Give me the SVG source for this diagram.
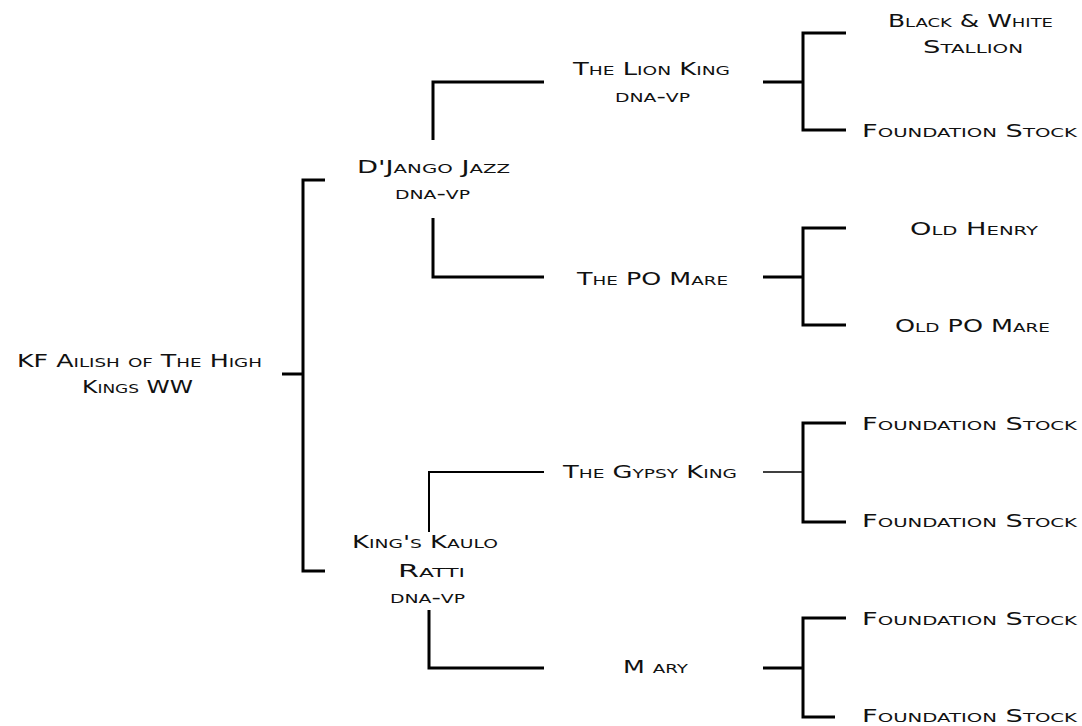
<svg xmlns="http://www.w3.org/2000/svg" width="1082" height="726" viewBox="0 0 1082 726">
<style>
text{font-family:"DejaVu Sans","Liberation Sans",Arial,sans-serif;font-size:18px;font-variant:small-caps;fill:#111;}
.ln{stroke:#000;stroke-width:3;fill:none;stroke-linecap:butt;stroke-linejoin:miter;}
.th{stroke:#000;stroke-width:1.5;fill:none;}
.md{stroke:#000;stroke-width:2;fill:none;}
</style>
<rect width="1082" height="726" fill="#fff"/>
<g id="connectors">
<path class="ln" d="M325 180 H303 V571 H325"/>
<path class="ln" d="M282 374 H303"/>
<path class="ln" d="M433 140 V82 H544"/>
<path class="ln" d="M433 218 V277 H544"/>
<path class="md" d="M429 532 V472 H544"/>
<path class="ln" d="M429 610 V668 H544"/>
<path class="ln" d="M846 33 H803 V130 H846"/>
<path class="ln" d="M763 82 H803"/>
<path class="ln" d="M846 228 H803 V325 H846"/>
<path class="ln" d="M763 277 H803"/>
<path class="ln" d="M846 423 H803 V522 H846"/>
<path class="th" d="M763 472 H803"/>
<path class="ln" d="M846 618 H803 V717 H835"/>
<path class="ln" d="M763 668 H803"/>
</g>
<g id="root">
<text x="17" y="367" textLength="245" lengthAdjust="spacingAndGlyphs">KF Ailish of The High</text>
<text x="82" y="393" textLength="111" lengthAdjust="spacingAndGlyphs">Kings WW</text>
</g>
<g id="django">
<text x="357" y="173" textLength="153" lengthAdjust="spacingAndGlyphs">D'Jango Jazz</text>
<text x="395" y="199" textLength="75" lengthAdjust="spacingAndGlyphs">dna-vp</text>
</g>
<g id="kaulo">
<text x="352" y="548" textLength="146" lengthAdjust="spacingAndGlyphs">King's Kaulo</text>
<text x="398" y="577" textLength="67" lengthAdjust="spacingAndGlyphs">Ratti</text>
<text x="390" y="603" textLength="75" lengthAdjust="spacingAndGlyphs">dna-vp</text>
</g>
<g id="lionking">
<text x="573" y="75" textLength="157" lengthAdjust="spacingAndGlyphs">The Lion King</text>
<text x="615" y="102" textLength="75" lengthAdjust="spacingAndGlyphs">dna-vp</text>
</g>
<g id="pomare">
<text x="577" y="285" textLength="151" lengthAdjust="spacingAndGlyphs">The PO Mare</text>
</g>
<g id="gypsyking">
<text x="563" y="478" textLength="174" lengthAdjust="spacingAndGlyphs">The Gypsy King</text>
</g>
<g id="mary">
<text x="623" y="673" textLength="65" lengthAdjust="spacingAndGlyphs">M ary</text>
</g>
<g id="bwstallion">
<text x="888" y="27" textLength="165" lengthAdjust="spacingAndGlyphs">Black &amp; White</text>
<text x="923" y="53" textLength="100" lengthAdjust="spacingAndGlyphs">Stallion</text>
</g>
<g id="foundation1">
<text x="862" y="137" textLength="215" lengthAdjust="spacingAndGlyphs">Foundation Stock</text>
</g>
<g id="oldhenry">
<text x="910" y="235" textLength="128" lengthAdjust="spacingAndGlyphs">Old Henry</text>
</g>
<g id="oldpomare">
<text x="895" y="332" textLength="155" lengthAdjust="spacingAndGlyphs">Old PO Mare</text>
</g>
<g id="foundation2">
<text x="862" y="430" textLength="215" lengthAdjust="spacingAndGlyphs">Foundation Stock</text>
</g>
<g id="foundation3">
<text x="862" y="527" textLength="215" lengthAdjust="spacingAndGlyphs">Foundation Stock</text>
</g>
<g id="foundation4">
<text x="862" y="625" textLength="215" lengthAdjust="spacingAndGlyphs">Foundation Stock</text>
</g>
<g id="foundation5">
<text x="862" y="722" textLength="215" lengthAdjust="spacingAndGlyphs">Foundation Stock</text>
</g>
</svg>
